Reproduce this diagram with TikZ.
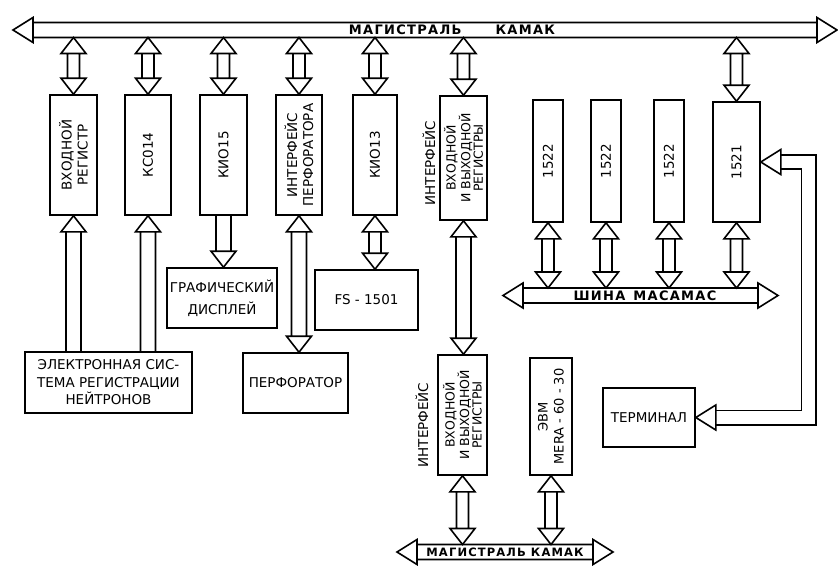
\documentclass[tikz,border=0pt]{standalone}
\usepackage{fontspec}
\setmainfont{DejaVu Sans}
\newfontfamily\busfont[LetterSpace=10]{DejaVu Sans Bold}
\usetikzlibrary{calc}

\tikzset{
  arr len/.store in=\arrlen,
  arr half/.store in=\arrhalf,
  arr shaft/.store in=\arrshaft,
  arr len=16pt, arr half=12.5pt, arr shaft=6pt,
  wire/.style={draw, line width=1.6pt, line join=miter},
  % hollow arrow, heads at both ends
  bidir/.style={wire, to path={
      -- ($(\tikztostart)!\arrlen!(\tikztotarget)!\arrhalf!90:(\tikztotarget)$)
      -- ($(\tikztostart)!\arrlen!(\tikztotarget)!\arrhalf!-90:(\tikztotarget)$) -- cycle
      ($(\tikztostart)!\arrlen!(\tikztotarget)!\arrshaft!90:(\tikztotarget)$)
      -- ($(\tikztotarget)!\arrlen!(\tikztostart)!\arrshaft!-90:(\tikztostart)$)
      ($(\tikztostart)!\arrlen!(\tikztotarget)!\arrshaft!-90:(\tikztotarget)$)
      -- ($(\tikztotarget)!\arrlen!(\tikztostart)!\arrshaft!90:(\tikztostart)$)
      (\tikztotarget)
      -- ($(\tikztotarget)!\arrlen!(\tikztostart)!\arrhalf!90:(\tikztostart)$)
      -- ($(\tikztotarget)!\arrlen!(\tikztostart)!\arrhalf!-90:(\tikztostart)$) -- cycle}},
  % hollow arrow, head at the target only
  unidir/.style={wire, to path={
      ($(\tikztostart)!\arrshaft!90:(\tikztotarget)$)
      -- ($(\tikztotarget)!\arrlen!(\tikztostart)!\arrshaft!-90:(\tikztostart)$)
      ($(\tikztostart)!\arrshaft!-90:(\tikztotarget)$)
      -- ($(\tikztotarget)!\arrlen!(\tikztostart)!\arrshaft!90:(\tikztostart)$)
      (\tikztotarget)
      -- ($(\tikztotarget)!\arrlen!(\tikztostart)!\arrhalf!90:(\tikztostart)$)
      -- ($(\tikztotarget)!\arrlen!(\tikztostart)!\arrhalf!-90:(\tikztostart)$) -- cycle}},
  bus/.style={bidir, arr len=20pt, arr shaft=7.5pt},
  modbox/.style={draw, line width=1.6pt, inner sep=0pt},
  vtext/.style={rotate=90, align=center, inner sep=0pt, font=\fontsize{13.5}{16}\selectfont},
  htext/.style={align=center, font=\fontsize{13.5}{17.5}\selectfont},
  busname/.style={inner sep=0pt, font=\busfont\fontsize{13}{14}\selectfont}
}

\begin{document}
\begin{tikzpicture}[x=1pt, y=-1pt]
\useasboundingbox (0,0) rectangle (838,565);

% buses
\coordinate (tbL) at (13,30);
\coordinate (tbR) at (837,30);
\coordinate (tbus) at (0,37.5);
\draw[bus] (tbL) to (tbR);
\node[busname] (tbtxt) at (452,30) {МАГИСТРАЛЬ\hspace{34pt}КАМАК};

\coordinate (shL) at (503,295.5);
\coordinate (shR) at (778,295.5);
\coordinate (shtop) at (0,288);
\draw[bus] (shL) to (shR);
\node[busname] (shtxt) at (645,295.5) {ШИНА\hspace{8pt}МАСАМАС};

\coordinate (bbL) at (397,552);
\coordinate (bbR) at (613,552);
\coordinate (bbtop) at (0,544.5);
\draw[bus] (bbL) to (bbR);
\node[busname, font=\busfont\fontsize{11.5}{13}\selectfont] (bbtxt) at (505,552) {МАГИСТРАЛЬ\hspace{5pt}КАМАК};

% crate modules
\node[modbox, minimum width=47, minimum height=120,
  label={[vtext]center:ВХОДНОЙ\\РЕГИСТР}] (vreg) at (73.5,155) {};
\node[modbox, minimum width=46, minimum height=120,
  label={[vtext]center:КС014}] (ks014) at (148,155) {};
\node[modbox, minimum width=47, minimum height=120,
  label={[vtext]center:КИО15}] (kio15) at (223.5,155) {};
\node[modbox, minimum width=46, minimum height=120,
  label={[vtext]center:ИНТЕРФЕЙС\\ПЕРФОРАТОРА}] (iperf) at (299,155) {};
\node[modbox, minimum width=44, minimum height=120,
  label={[vtext]center:КИО13}] (kio13) at (375,155) {};
\node[modbox, minimum width=47, minimum height=124,
  label={[vtext, font=\fontsize{12.5}{12.5}\selectfont]center:ВХОДНОЙ\\И ВЫХОДНОЙ\\РЕГИСТРЫ}] (ioreg) at (463.5,158) {};
\node[vtext] (ifc1) at (429,163) {ИНТЕРФЕЙС};
\node[modbox, minimum width=30, minimum height=122,
  label={[vtext]center:1522}] (mac1) at (548,161) {};
\node[modbox, minimum width=30, minimum height=122,
  label={[vtext]center:1522}] (mac2) at (606,161) {};
\node[modbox, minimum width=30, minimum height=122,
  label={[vtext]center:1522}] (mac3) at (669,161) {};
\node[modbox, minimum width=47, minimum height=120,
  label={[vtext]center:1521}] (mac4) at (736.5,162) {};

% devices
\node[modbox, minimum width=167, minimum height=61, htext] (esr) at (108.5,382.5)
  {ЭЛЕКТРОННАЯ СИС-\\ТЕМА РЕГИСТРАЦИИ\\НЕЙТРОНОВ};
\node[modbox, minimum width=110, minimum height=60, htext,
  font=\fontsize{13.5}{22}\selectfont] (gdisp) at (222,298) {ГРАФИЧЕСКИЙ\\ДИСПЛЕЙ};
\node[modbox, minimum width=105, minimum height=60, htext] (perf) at (295.5,383) {ПЕРФОРАТОР};
\node[modbox, minimum width=103, minimum height=60, htext] (fs) at (366.5,300) {FS - 1501};
\node[modbox, minimum width=49, minimum height=120,
  label={[vtext, font=\fontsize{12.5}{12.5}\selectfont]center:ВХОДНОЙ\\И ВЫХОДНОЙ\\РЕГИСТРЫ}] (ioreg2) at (462.5,415) {};
\node[vtext] (ifc2) at (422,425) {ИНТЕРФЕЙС};
\node[modbox, minimum width=42, minimum height=117,
  label={[vtext, font=\fontsize{13}{16}\selectfont]center:ЭВМ\\MERA - 60 - 30}] (evm) at (551,416.5) {};
\node[modbox, minimum width=92, minimum height=59, htext] (term) at (649,417.5) {ТЕРМИНАЛ};

% links to the crate bus
\foreach \m in {vreg,ks014,kio15,iperf,kio13,ioreg,mac4}
  \draw[bidir] (\m.north |- tbus) to (\m.north);
\foreach \m in {mac1,mac2,mac3,mac4}
  \draw[bidir] (\m.south) to (\m.south |- shtop);
\draw[bidir] (ioreg2.south) to (ioreg2.south |- bbtop);
\draw[bidir] (evm.south) to (evm.south |- bbtop);

% links to devices
\draw[unidir, arr shaft=7.5pt] (vreg.south |- esr.north) to (vreg.south);
\draw[unidir, arr shaft=7.5pt] (ks014.south |- esr.north) to (ks014.south);
\draw[unidir, arr shaft=7.5pt] (kio15.south) to (kio15.south |- gdisp.north);
\draw[bidir, arr shaft=7.5pt] (iperf.south) to (iperf.south |- perf.north);
\draw[bidir] (kio13.south) to (kio13.south |- fs.north);
\draw[bidir, arr shaft=7.5pt] (ioreg.south) to (ioreg.south |- ioreg2.north);

% terminal line
\draw[wire, double, double distance=12.8pt]
  ([xshift=20pt]mac4.east) -| ([xshift=113pt]term.east) -- ([xshift=20pt]term.east);
\draw[wire] (mac4.east) -- ++(20pt,12.5pt) -- ++(0,-25pt) -- cycle;
\draw[wire] (term.east) -- ++(20pt,12.5pt) -- ++(0,-25pt) -- cycle;
\end{tikzpicture}
\end{document}
